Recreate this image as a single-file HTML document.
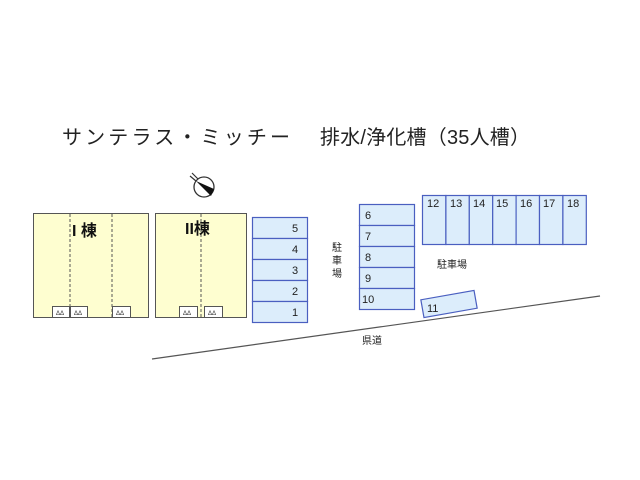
<!DOCTYPE html>
<html><head><meta charset="utf-8"><style>
body{margin:0;background:#fff;width:640px;height:480px;overflow:hidden}
svg{display:block}
text{font-family:"Liberation Sans","Noto Sans CJK JP",sans-serif}
</style></head><body>
<svg width="640" height="480" viewBox="0 0 640 480">
<text x="62" y="144" font-size="20" fill="#222" textLength="228" lengthAdjust="spacing">サンテラス・ミッチー</text>
<text x="320" y="144" font-size="20" fill="#222" textLength="210" lengthAdjust="spacing">排水/浄化槽（35人槽）</text>
<!-- compass -->
<g transform="translate(204,187)">
<circle r="10" fill="#fff" stroke="#333" stroke-width="1.3"/>
<path d="M-8,-6 L10,2 L7,9 Z" fill="#111"/>
<path d="M-14,-11 L-8,-6 M-12,-14 L-6,-8" stroke="#333" stroke-width="1.2"/>
</g>
<!-- buildings -->
<rect x="33.5" y="213.5" width="115" height="104" fill="#fefed0" stroke="#555"/>
<rect x="155.5" y="213.5" width="91" height="104" fill="#fefed0" stroke="#555"/>
<g stroke="#555" stroke-dasharray="3,2">
<line x1="70" y1="214" x2="70" y2="317"/><line x1="112" y1="214" x2="112" y2="317"/>
<line x1="201" y1="214" x2="201" y2="317"/></g>
<text x="72" y="236" font-size="16" font-weight="bold" fill="#111">I 棟</text>
<text x="185" y="234" font-size="16" font-weight="bold" fill="#111">II棟</text>
<g fill="#fff" stroke="#555">
<rect x="52.5" y="306.5" width="17" height="11"/><rect x="70.5" y="306.5" width="17" height="11"/>
<rect x="112.5" y="306.5" width="18" height="11"/><rect x="179.5" y="306.5" width="18" height="11"/>
<rect x="204.5" y="306.5" width="18" height="11"/></g>
<g font-size="6" fill="#333"><text x="56" y="315">ΔΔ</text><text x="74" y="315">ΔΔ</text><text x="116" y="315">ΔΔ</text><text x="183" y="315">ΔΔ</text><text x="208" y="315">ΔΔ</text></g>
<g fill="#dcedfb" stroke="#4a5fc0" stroke-width="1.2">
<rect x="252.5" y="217.5" width="55" height="21"/><rect x="252.5" y="238.5" width="55" height="21"/>
<rect x="252.5" y="259.5" width="55" height="21"/><rect x="252.5" y="280.5" width="55" height="21"/>
<rect x="252.5" y="301.5" width="55" height="21"/>
<rect x="359.5" y="204.5" width="55" height="21"/><rect x="359.5" y="225.5" width="55" height="21"/>
<rect x="359.5" y="246.5" width="55" height="21"/><rect x="359.5" y="267.5" width="55" height="21"/>
<rect x="359.5" y="288.5" width="55" height="21"/>
<rect x="422.5" y="195.5" width="23.4" height="49"/><rect x="445.9" y="195.5" width="23.4" height="49"/>
<rect x="469.3" y="195.5" width="23.4" height="49"/><rect x="492.7" y="195.5" width="23.4" height="49"/>
<rect x="516.1" y="195.5" width="23.4" height="49"/><rect x="539.5" y="195.5" width="23.4" height="49"/>
<rect x="562.9" y="195.5" width="23.4" height="49"/>
<rect x="-27" y="-9" width="54" height="18" transform="translate(449,304) rotate(-10)"/>
</g>
<g font-size="11" fill="#222">
<text x="292" y="232">5</text><text x="292" y="253">4</text><text x="292" y="274">3</text><text x="292" y="295">2</text><text x="292" y="316">1</text>
<text x="365" y="219">6</text><text x="365" y="240">7</text><text x="365" y="261">8</text><text x="365" y="282">9</text><text x="362" y="303">10</text>
<text x="427" y="207">12</text><text x="450" y="207">13</text><text x="473" y="207">14</text><text x="496" y="207">15</text><text x="520" y="207">16</text><text x="543" y="207">17</text><text x="567" y="207">18</text>
<text x="427" y="312">11</text>
</g>
<g font-size="10" fill="#222">
<text x="332" y="251">駐</text><text x="332" y="264">車</text><text x="332" y="277">場</text>
<text x="437" y="268">駐車場</text>
<text x="362" y="344">県道</text>
</g>
<line x1="152" y1="359" x2="600" y2="296" stroke="#555" stroke-width="1.2"/>
</svg>
</body></html>
